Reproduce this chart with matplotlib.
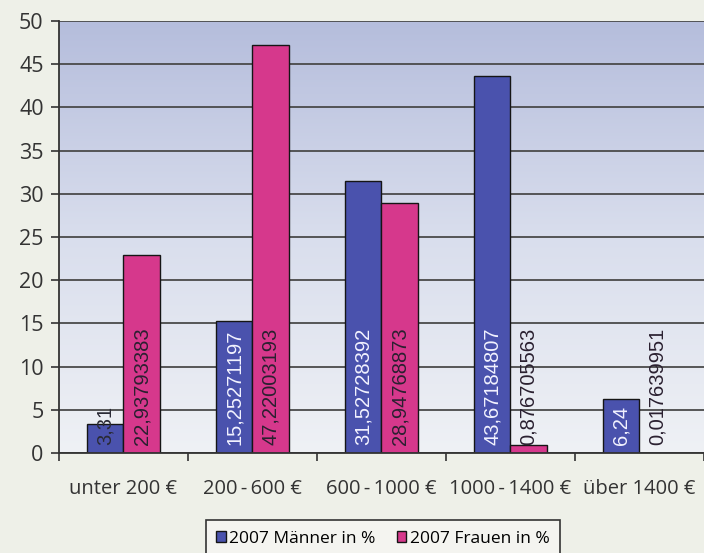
import matplotlib
matplotlib.use('Agg')
import matplotlib.pyplot as plt
import numpy as np
from matplotlib.colors import LinearSegmentedColormap

categories = ["unter 200 €", "200\u2009-\u2009600 €", "600\u2009-\u20091000 €",
              "1000\u2009-\u20091400 €", "über 1400 €"]
maenner = [3.31, 15.25271197, 31.52728392, 43.67184807, 6.24]
frauen = [22.93793383, 47.22003193, 28.94768873, 0.876705563, 0.017639951]
series_names = ["2007 Männer in %", "2007 Frauen in %"]

BLUE = '#4a52ad'
PINK = '#d6388c'
TICK_FONT = ['Open Sans', 'DejaVu Sans']
LABEL_FONT = ['Liberation Sans', 'DejaVu Sans']

fig = plt.figure(figsize=(7.04, 5.53), dpi=100, facecolor='#eef0e8')
ax = fig.add_axes([0.0838, 0.181, 0.9162, 0.781])

x = np.arange(len(categories))
w = 0.28

# gradient plot area background
grad = np.linspace(0, 1, 256).reshape(-1, 1)
cmap = LinearSegmentedColormap.from_list('bg', ['#eff1f5', '#d9deed', '#b5bddc'])
ax.imshow(grad, extent=(-0.5, 4.5, 0, 50), origin='lower', aspect='auto',
          cmap=cmap, zorder=0)

ax.set_yticks(range(0, 51, 5))
ax.yaxis.grid(True, color='#4a4a4a', lw=1.3, zorder=1)
ax.set_axisbelow(True)

b1 = ax.bar(x - w / 2, maenner, w, color=BLUE, edgecolor='#151515', lw=1.0,
            zorder=2, label=series_names[0])
b2 = ax.bar(x + w / 2, frauen, w, color=PINK, edgecolor='#151515', lw=1.0,
            zorder=2, label=series_names[1])

for xi, v in zip(x, maenner):
    col = '#f2f2ff' if v > 5 else '#2a2a35'
    ax.text(xi - w / 2, 0.9, str(v).replace('.', ','), rotation=90,
            ha='center', va='bottom', fontsize=14.5, color=col,
            family=LABEL_FONT, zorder=3)
for xi, v in zip(x, frauen):
    ax.text(xi + w / 2, 0.9, str(v).replace('.', ','), rotation=90,
            ha='center', va='bottom', fontsize=14.5, color='#2a2030',
            family=LABEL_FONT, zorder=3)

ax.set_xlim(-0.5, 4.5)
ax.set_ylim(0, 50)
ax.set_xticks(x)
ax.set_xticklabels(categories)
ax.set_xticks(np.arange(-0.5, 5.0, 1.0), minor=True)
ax.tick_params(axis='x', which='major', length=0, pad=19, labelsize=14.5,
               labelcolor='#333333')
ax.tick_params(axis='x', which='minor', length=6, width=1.2, color='#333333')
ax.tick_params(axis='y', length=6, width=1.2, color='#333333', labelsize=15.5,
               labelcolor='#333333', pad=5)
for lab in ax.get_xticklabels() + ax.get_yticklabels():
    lab.set_family(TICK_FONT)

for side in ['top', 'right']:
    ax.spines[side].set_visible(False)
for side in ['left', 'bottom']:
    ax.spines[side].set_color('#333333')
    ax.spines[side].set_linewidth(1.3)

leg = fig.legend(handles=[b1, b2], loc='center', bbox_to_anchor=(0.544, 0.026),
                 ncol=2, frameon=True, fancybox=False, edgecolor='#333333',
                 facecolor='#f4f4f0', framealpha=1, handlelength=0.55,
                 handleheight=0.55, handletextpad=0.2, columnspacing=1.2,
                 borderpad=0.6, borderaxespad=0,
                 prop={'family': TICK_FONT, 'size': 12.5})
leg.get_frame().set_linewidth(1.2)

fig.savefig('out.png', dpi=100, facecolor=fig.get_facecolor())
